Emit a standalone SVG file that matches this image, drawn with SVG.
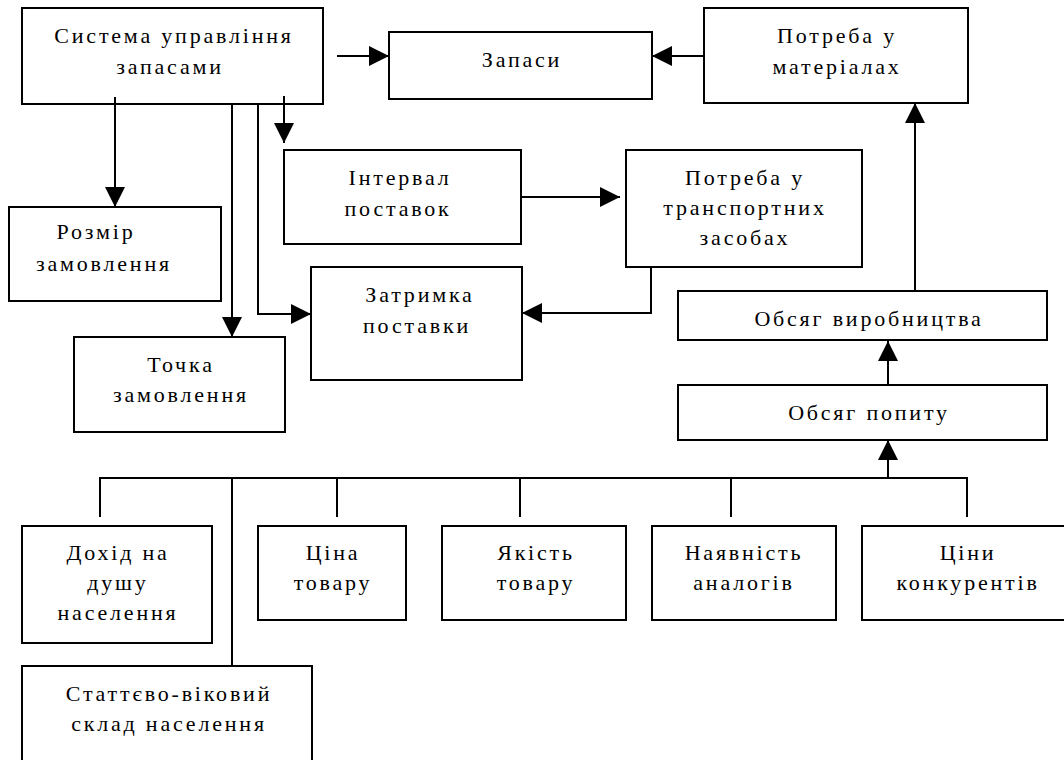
<svg xmlns="http://www.w3.org/2000/svg" width="1064" height="760" viewBox="0 0 1064 760">
<style>
.box{fill:#fff;stroke:#000;stroke-width:2}
.t{font-family:"Liberation Serif","Times New Roman",serif;font-size:22px;letter-spacing:2.8px;text-anchor:middle;fill:#000}
.c{fill:none;stroke:#000;stroke-width:2}
</style>
<defs>
<marker id="ah" viewBox="0 0 20 20" refX="20" refY="10" markerWidth="20" markerHeight="20" markerUnits="userSpaceOnUse" orient="auto">
<path d="M0,0 L20,10 L0,20 z" fill="#000"/>
</marker>
</defs>
<rect width="1064" height="760" fill="#fff"/>
<g id="sys"><rect class="box" x="22" y="8" width="301" height="96"/><text class="t" x="174" y="43">Система управління</text><text class="t" x="170" y="74">запасами</text></g>
<g id="zapasy"><rect class="box" x="389" y="32" width="263" height="67"/><text class="t" x="522" y="67">Запаси</text></g>
<g id="potreba-mat"><rect class="box" x="704" y="8" width="264" height="95"/><text class="t" x="837" y="43">Потреба у</text><text class="t" x="837" y="74">матеріалах</text></g>
<g id="rozmir"><rect class="box" x="9" y="207" width="212" height="94"/><text class="t" x="96" y="239">Розмір</text><text class="t" x="104" y="271">замовлення</text></g>
<g id="interval"><rect class="box" x="284" y="150" width="237" height="94"/><text class="t" x="400" y="185">Інтервал</text><text class="t" x="398" y="216">поставок</text></g>
<g id="potreba-trans"><rect class="box" x="626" y="150" width="236" height="117"/><text class="t" x="745" y="185">Потреба у</text><text class="t" x="745" y="215">транспортних</text><text class="t" x="745" y="245">засобах</text></g>
<g id="zatrymka"><rect class="box" x="311" y="267" width="211" height="113"/><text class="t" x="420" y="302">Затримка</text><text class="t" x="417" y="333">поставки</text></g>
<g id="tochka"><rect class="box" x="74" y="337" width="211" height="95"/><text class="t" x="181" y="372">Точка</text><text class="t" x="181" y="402">замовлення</text></g>
<g id="obsyag-vyr"><rect class="box" x="678" y="291" width="369" height="49"/><text class="t" x="869" y="326">Обсяг виробництва</text></g>
<g id="obsyag-popytu"><rect class="box" x="678" y="385" width="369" height="55"/><text class="t" x="869" y="420">Обсяг попиту</text></g>
<g id="dokhid"><rect class="box" x="22" y="526" width="190" height="117"/><text class="t" x="118" y="560">Дохід на</text><text class="t" x="118" y="590">душу</text><text class="t" x="118" y="620">населення</text></g>
<g id="tsina"><rect class="box" x="258" y="526" width="148" height="94"/><text class="t" x="333" y="560">Ціна</text><text class="t" x="333" y="590">товару</text></g>
<g id="yakist"><rect class="box" x="442" y="526" width="184" height="94"/><text class="t" x="536" y="560">Якість</text><text class="t" x="536" y="590">товару</text></g>
<g id="nayavnist"><rect class="box" x="652" y="526" width="184" height="94"/><text class="t" x="744" y="560">Наявність</text><text class="t" x="744" y="590">аналогів</text></g>
<g id="tsiny"><rect class="box" x="862" y="526" width="204" height="94"/><text class="t" x="968" y="560">Ціни</text><text class="t" x="968" y="590">конкурентів</text></g>
<g id="stattevo"><rect class="box" x="22" y="666" width="290" height="100"/><text class="t" x="169" y="701">Статтєво-віковий</text><text class="t" x="169" y="731">склад населення</text></g>
<g id="connectors">
<path class="c" d="M337,56 H389" marker-end="url(#ah)"/>
<path class="c" d="M704,56 H652" marker-end="url(#ah)"/>
<path class="c" d="M115,97 V207" marker-end="url(#ah)"/>
<path class="c" d="M232,104 V337" marker-end="url(#ah)"/>
<path class="c" d="M258,104 V314 H311" marker-end="url(#ah)"/>
<path class="c" d="M284,96 V143" marker-end="url(#ah)"/>
<path class="c" d="M521,197 H620" marker-end="url(#ah)"/>
<path class="c" d="M651,267 V313 H522" marker-end="url(#ah)"/>
<path class="c" d="M915,291 V103" marker-end="url(#ah)"/>
<path class="c" d="M888,385 V341" marker-end="url(#ah)"/>
<path class="c" d="M888,478 V440" marker-end="url(#ah)"/>
<path class="c" d="M100,517 V478 H967 V517"/>
<path class="c" d="M232,478 V666"/>
<path class="c" d="M337,478 V517"/>
<path class="c" d="M520,478 V517"/>
<path class="c" d="M731,478 V517"/>
</g>
</svg>
